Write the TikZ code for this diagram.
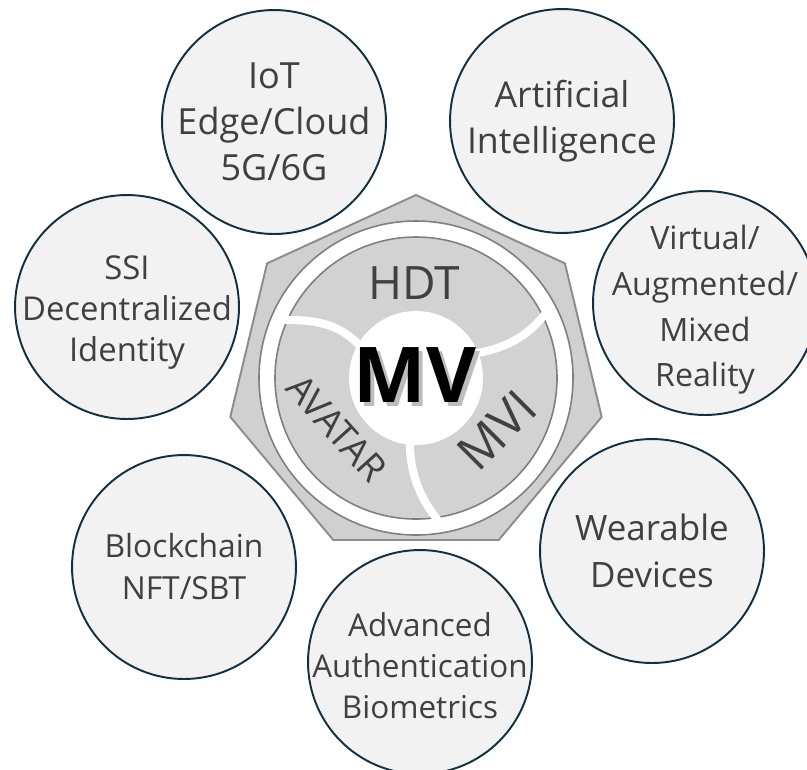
\documentclass[tikz,border=0pt]{standalone}
\usepackage{fontspec}
\setmainfont{Open Sans}
\definecolor{bubfill}{HTML}{F2F2F2}
\definecolor{bubline}{HTML}{12303F}
\definecolor{hexfill}{HTML}{D0D0D0}
\definecolor{hexline}{HTML}{8C8C8C}
\definecolor{segfill}{HTML}{D2D2D2}
\definecolor{segline}{HTML}{7F7F7F}
\definecolor{txt}{HTML}{404040}
\definecolor{shade}{HTML}{BDBDBD}
\tikzset{
  bubble/.style={circle, draw=bubline, fill=bubfill, line width=1.1pt,
    minimum size=4.48cm, inner sep=0pt},
  bubtext/.style={align=center, text=txt, inner sep=0pt},
  divider/.style={white, line width=4.6pt},
  ringtext/.style={text=txt, inner sep=0pt}
}
\begin{document}
\begin{tikzpicture}[x=0.02cm, y=-0.02cm]
\useasboundingbox (0,0) rectangle (807,769);
\clip (0,0) rectangle (807,769);

% central heptagon
\draw[fill=hexfill, draw=hexline, line width=1.1pt]
  (416,195) -- (564.9,263.3) -- (601.7,416.9) -- (498.7,540.0)
  -- (333.3,540.0) -- (230.3,416.9) -- (267.1,263.3) -- cycle;

% white ring and the three grey segments
\coordinate (c) at (416,378);
\draw[fill=white, draw=segline, line width=0.9pt] (c) circle[radius=157];
\draw[fill=segfill, draw=segline, line width=0.9pt] (c) circle[radius=141];
\draw[divider] (362,348) .. controls (340,324) and (318,319) .. (276,320);
\draw[divider] (470,354) .. controls (502,350) and (528,338) .. (548,310);
\draw[divider] (410,430) .. controls (408,470) and (418,496) .. (440,523);
\fill[white] (c) circle[radius=67];

% segment labels
\node[ringtext, font=\fontsize{26.2}{30}\selectfont] (hdt) at (414,283) {HDT};
\node[ringtext, font=\fontsize{21.2}{25}\selectfont, rotate=-48] (avatar) at (337,428) {AVATAR};
\node[ringtext, font=\fontsize{28}{32}\selectfont, rotate=45] (mvi) at (497,430) {MVI};

% centre title with its drop shadow
\node[text=shade, font=\bfseries\fontsize{43.8}{48}\selectfont, inner sep=0pt] (mvshadow) at (419,379) {MV};
\node[text=black, font=\bfseries\fontsize{43.8}{48}\selectfont, inner sep=0pt] (mv) at (415,375) {MV};

% surrounding technology bubbles
\node[bubble] (iot) at (274,122) {};
\node[bubble] (ai) at (562,121) {};
\node[bubble] (xr) at (705,303) {};
\node[bubble] (wear) at (652,551) {};
\node[bubble] (auth) at (420,662) {};
\node[bubble] (chain) at (184,567) {};
\node[bubble] (ssi) at (127,307) {};

\node[bubtext, font=\fontsize{20.5}{26.2}\selectfont] (iott) at (iot) {IoT\\Edge/Cloud\\5G/6G};
\node[bubtext, font=\fontsize{20.3}{26.2}\selectfont] (ait) at (ai) {Artificial\\Intelligence};
\node[bubtext, font=\fontsize{18.3}{26}\selectfont, yshift=-4] (xrt) at (xr) {Virtual/\\Augmented/\\Mixed\\Reality};
\node[bubtext, font=\fontsize{19.9}{26.7}\selectfont] (weart) at (wear) {Wearable\\Devices};
\node[bubtext, font=\fontsize{17.9}{23.3}\selectfont, yshift=-2] (autht) at (auth) {Advanced\\Authentication\\Biometrics};
\node[bubtext, font=\fontsize{18.1}{23.9}\selectfont] (chaint) at (chain) {Blockchain\\NFT/SBT};
\node[bubtext, font=\fontsize{18.7}{23.4}\selectfont, yshift=-3] (ssit) at (ssi) {SSI\\Decentralized\\Identity};
\end{tikzpicture}
\end{document}
